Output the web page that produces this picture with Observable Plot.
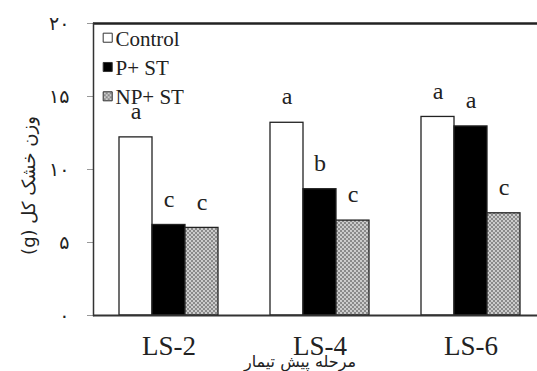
<!DOCTYPE html>
<html>
<head>
<meta charset="utf-8">
<script src="https://cdn.jsdelivr.net/npm/d3@7"></script>
<script src="https://cdn.jsdelivr.net/npm/@observablehq/plot@0.6"></script>
<style>
  html, body { margin: 0; padding: 0; background: #fff; }
  #chart svg { display: block; overflow: hidden; }
</style>
</head>
<body>
<div id="chart"></div>
<script>
// ---- data ----
const stages = ["LS-2", "LS-4", "LS-6"];
const series = ["Control", "P+ ST", "NP+ ST"];
const controlValues = [12.2, 13.2, 13.6];
const pstValues = [6.2, 8.65, 12.95];
const npstValues = [6.0, 6.5, 7.0];
const controlLetters = ["a", "a", "a"];
const pstLetters = ["c", "b", "a"];
const npstLetters = ["c", "c", "c"];
const yTicks = [0, 5, 10, 15, 20];
const yTitle = "وزن خشک کل (g)";
const xTitle = "مرحله پیش تیمار";

const valuesBySeries = [controlValues, pstValues, npstValues];
const lettersBySeries = [controlLetters, pstLetters, npstLetters];
const data = [];
stages.forEach((st, i) => series.forEach((s, j) => data.push({
  stage: st, series: s, value: valuesBySeries[j][i], letter: lettersBySeries[j][i]
})));

const fa = s => String(s).replace(/\d/g, d => "۰۱۲۳۴۵۶۷۸۹"[d]);
const serif = "'Liberation Serif', 'Times New Roman', serif";
const persian = "'DejaVu Sans', sans-serif";

const plot = Plot.plot({
  width: 537,
  height: 371,
  marginLeft: 92,
  marginRight: -9,
  marginTop: 23,
  marginBottom: 56,
  fx: {domain: stages, padding: 0},
  x: {domain: series, paddingInner: 0, paddingOuter: 0.728, axis: null},
  y: {domain: [0, 20]},
  color: {domain: series, range: ["#ffffff", "#000000", "url(#stipple)"]},
  marks: [
    Plot.axisY({ticks: yTicks, tickFormat: fa, tickSize: 6, tickPadding: 18,
      fontSize: 19, fontFamily: persian, color: "#222", stroke: "#999", label: null}),
    Plot.axisFx({anchor: "bottom", tickSize: 0, tickPadding: 20, fontSize: 27,
      fontFamily: serif, color: "#222", label: null}),
    Plot.barY(data, {fx: "stage", x: "series", y: "value", fill: "series",
      stroke: "#222", strokeWidth: 1.3}),
    Plot.text(data, {fx: "stage", x: "series", y: "value", text: "letter", dy: -26,
      fontSize: 24, fontFamily: serif, fill: "#222"}),
    Plot.ruleY([0], {stroke: "#333", strokeWidth: 2}),
    Plot.ruleY([20], {stroke: "#222", strokeWidth: 2.5}),
    Plot.frame({anchor: "left", facetAnchor: "left", stroke: "#333", strokeWidth: 1.5}),
    ...series.map((s, i) => Plot.dot([s], {facetAnchor: "left", frameAnchor: "top-left",
      dx: 14.2, dy: 14.2 + i * 29.3, symbol: "square", r: 5.1, fill: d => d,
      stroke: "#333", strokeWidth: 1})),
    ...series.map((s, i) => Plot.text([s], {facetAnchor: "left", frameAnchor: "top-left",
      lineAnchor: "middle", dx: 22, dy: 15.3 + i * 29, textAnchor: "start",
      fontSize: 21, fontFamily: serif, fill: "#222"})),
    Plot.text([yTitle], {facetAnchor: "left", frameAnchor: "left", textAnchor: "middle",
      lineAnchor: "middle", dx: -64, dy: 16, rotate: -90, fontSize: 18,
      fontFamily: persian, fill: "#222"}),
    Plot.text([xTitle], {fx: () => stages[1], frameAnchor: "bottom", textAnchor: "middle",
      lineAnchor: "middle", dx: -20, dy: 46, fontSize: 16, fontFamily: persian, fill: "#222"})
  ]
});

// stipple pattern for the NP+ ST bars
const defs = d3.select(plot).insert("defs", ":first-child");
const pat = defs.append("pattern").attr("id", "stipple")
  .attr("patternUnits", "userSpaceOnUse").attr("width", 4).attr("height", 4);
pat.append("rect").attr("width", 4).attr("height", 4).attr("fill", "#8a8a8a");
pat.append("circle").attr("cx", 1).attr("cy", 1).attr("r", 0.9).attr("fill", "#ececec");
pat.append("circle").attr("cx", 3).attr("cy", 3).attr("r", 0.9).attr("fill", "#ececec");

// right-to-left paragraph direction for the Persian y title
d3.select(plot).selectAll("text")
  .filter(function () { return this.textContent === yTitle; })
  .attr("direction", "rtl").style("direction", "rtl").style("unicode-bidi", "embed");

document.getElementById("chart").appendChild(plot);
</script>
</body>
</html>
